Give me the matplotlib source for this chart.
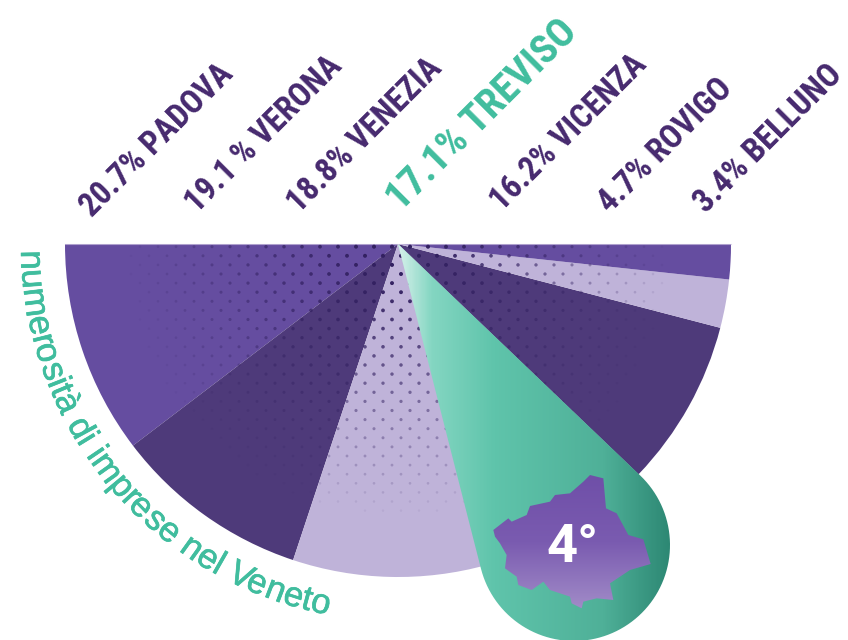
import numpy as np
from matplotlib import pyplot as plt
from matplotlib import patheffects
from matplotlib.colors import LinearSegmentedColormap
from matplotlib.font_manager import FontProperties, findfont
from matplotlib.patches import Polygon, Wedge
from matplotlib.textpath import TextPath

provinces = ['PADOVA', 'VERONA', 'VENEZIA', 'TREVISO', 'VICENZA', 'ROVIGO', 'BELLUNO']
shares = [20.7, 19.1, 18.8, 17.1, 16.2, 4.7, 3.4]
share_labels = ['20.7%', '19.1 %', '18.8%', '17.1%', '16.2%', '4.7%', '3.4%']
slice_colors = ['#654da0', '#4e3a7a', '#bfb3d9', '#5cc4aa', '#4e3a7a', '#bfb3d9', '#654da0']

PURPLE = '#46296e'
TEAL = '#40bd9e'
cx, cy, R = 398, 244, 333

# look for a condensed face, otherwise plain Liberation Sans at a smaller size
narrow = None
for name in ['Liberation Sans Narrow', 'Roboto Condensed', 'Open Sans Condensed']:
    try:
        findfont(FontProperties(family=name, weight='bold'), fallback_to_default=False)
        narrow = name
        break
    except ValueError:
        pass
label_size = 23.5 if narrow else 20.3
big_size = 29 if narrow else 25.5
if narrow is None:
    narrow = 'Liberation Sans'

fig = plt.figure(figsize=(8.48, 6.4), dpi=100)
ax = fig.add_axes([0, 0, 1, 1])

# slices run clockwise on screen from the left end (y axis is flipped)
end = 180.0
for share, col in zip(shares, slice_colors):
    start = end - share * 1.8
    ax.add_patch(Wedge((cx, cy), R, start, end, fc=col, ec='none', zorder=1))
    end = start
ax.plot([cx - R, cx + R], [cy, cy], color='#cfc6e3', lw=0.8, alpha=0.7, zorder=1.5)

# halftone dots, fading away from the centre
xs, ys, sizes, alphas = [], [], [], []
for i in range(0, 30):
    y = 246.7 + i * 9.1
    off = 0 if i % 2 == 0 else 9
    for x in np.arange(-4 + off, 848, 18):
        d = np.hypot(x - cx, y - cy)
        if d < 270:
            f = 1 - d / 270
            xs.append(x)
            ys.append(y)
            sizes.append(3 + 6 * f)
            alphas.append(min(1, 0.05 + 1.1 * f))
dots = np.zeros((len(xs), 4))
dots[:, :3] = (0.2, 0.13, 0.38)
dots[:, 3] = alphas
ax.scatter(xs, ys, s=sizes, c=dots, linewidths=0, zorder=2)

# Treviso teardrop
tx, ty, tr = 574, 545, 96
dist = np.hypot(tx - cx, ty - cy)
axis = np.arctan2(ty - cy, tx - cx)
half = np.arcsin(tr / dist)
a1 = axis - half - np.pi / 2
a2 = axis + half + np.pi / 2
arc = np.linspace(a1, a2, 80)
verts = [(cx, cy)] + [(tx + tr * np.cos(t), ty + tr * np.sin(t)) for t in arc] + [(cx, cy)]
drop = Polygon(verts, closed=True, fc='none', ec='none')
ax.add_patch(drop)
teal_map = LinearSegmentedColormap.from_list(
    'teal', [(0, '#d5f0ea'), (0.12, '#84d6c2'), (0.35, '#5fc4ab'), (0.75, '#4fb098'), (1, '#2c8773')])
img = ax.imshow(np.linspace(0, 1, 300).reshape(1, -1), cmap=teal_map, extent=(398, 672, 650, 240),
                aspect='auto', zorder=3)
img.set_clip_path(drop)

# province outline inside the drop
outline_zoom = [(160, 330), (205, 295), (215, 305), (260, 285), (270, 258), (330, 245), (345, 225),
                (390, 220), (430, 185), (450, 165), (490, 175), (498, 265), (530, 280), (565, 345),
                (610, 358), (632, 432), (570, 450), (510, 490), (520, 540), (470, 535), (430, 545),
                (425, 565), (395, 550), (390, 530), (330, 510), (310, 485), (275, 510), (235, 495),
                (230, 470), (195, 445), (200, 405), (180, 370), (165, 350)]
outline = [(440 + x / 3, 420 + y / 3) for x, y in outline_zoom]
shape = Polygon(outline, closed=True, fc='none', ec='none')
ax.add_patch(shape)
map_cmap = LinearSegmentedColormap.from_list('map', ['#6f4fa8', '#7a5bb0', '#a28cc8'])
img2 = ax.imshow(np.linspace(0, 1, 200).reshape(-1, 1), cmap=map_cmap, extent=(490, 655, 610, 474),
                 aspect='auto', zorder=4)
img2.set_clip_path(shape)
ax.text(573, 562, '4°', color='white', fontsize=39, family='Roboto', weight='bold',
        ha='center', va='baseline', zorder=5)

# rotated labels
starts_x = [92, 197, 299, 401, 502, 610, 706]
starts_y = [218, 214, 214, 212, 212, 214, 214]
for i, (name, lab) in enumerate(zip(provinces, share_labels)):
    big = name == 'TREVISO'
    ax.text(starts_x[i], starts_y[i], lab + ' ' + name, rotation=45, rotation_mode='anchor',
            ha='left', va='baseline', family=narrow, weight='bold',
            fontsize=big_size if big else label_size, color=TEAL if big else PURPLE, zorder=6)

# curved caption along the rim
caption = 'numerosità di imprese nel Veneto'
cap_size = 25
fp = FontProperties(family='Liberation Sans', size=cap_size)
rc = 377
dot_w = TextPath((0, 0), '.', prop=fp).get_extents().x1
for k, ch in enumerate(caption):
    adv = TextPath((0, 0), caption[:k] + '.', prop=fp).get_extents().x1 - dot_w
    ang = np.radians(1.0) + adv * (100 / 72) / rc
    x = cx - rc * np.cos(ang)
    y = cy + rc * np.sin(ang)
    ax.text(x, y, ch, fontproperties=fp, color=TEAL, rotation=np.degrees(ang) - 90,
            rotation_mode='anchor', ha='left', va='baseline', zorder=6,
            path_effects=[patheffects.withStroke(linewidth=0.5, foreground=TEAL)])

ax.set_xlim(0, 848)
ax.set_ylim(640, 0)
ax.axis('off')
fig.savefig('out.png', dpi=100)
